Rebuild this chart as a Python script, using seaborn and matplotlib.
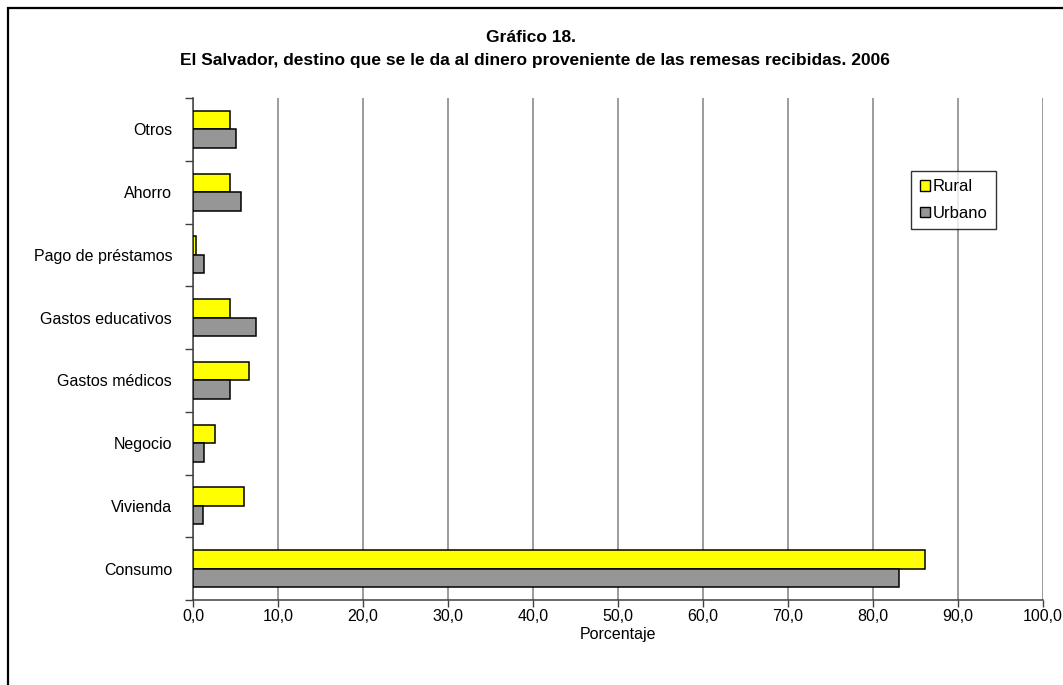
import pandas as pd
import numpy as np
import matplotlib
matplotlib.use('Agg')
import matplotlib.pyplot as plt
from matplotlib.patches import Rectangle
from matplotlib.ticker import FixedLocator, FuncFormatter
import seaborn as sns

# datos
categorias = ['Otros', 'Ahorro', 'Pago de préstamos', 'Gastos educativos',
              'Gastos médicos', 'Negocio', 'Vivienda', 'Consumo']
rural = [4.4, 4.4, 0.4, 4.4, 6.6, 2.6, 6.0, 86.1]
urbano = [5.0, 5.6, 1.3, 7.4, 4.4, 1.3, 1.2, 83.1]
grupos = ['Rural', 'Urbano']
colores = ['#FFFF00', '#969696']

df = pd.DataFrame({
    'categoria': categorias * 2,
    'valor': rural + urbano,
    'zona': ['Rural'] * len(categorias) + ['Urbano'] * len(categorias),
})

sns.set_style('white')
plt.rcParams['font.family'] = ['Liberation Sans', 'DejaVu Sans']
plt.rcParams['text.color'] = 'black'
plt.rcParams['xtick.color'] = 'black'
plt.rcParams['ytick.color'] = 'black'
plt.rcParams['axes.labelcolor'] = 'black'

fig = plt.figure(figsize=(10.63, 6.85), dpi=100)
ax = fig.add_axes([193 / 1063, 1 - 600 / 685, 850 / 1063, 502 / 685])

sns.barplot(data=df, x='valor', y='categoria', hue='zona', order=categorias,
            hue_order=grupos, palette=colores, orient='h', width=0.59,
            edgecolor='black', linewidth=1.1, saturation=1, ax=ax, zorder=3)

ax.set_xlim(0, 100)
ax.set_ylim(len(categorias) - 0.5, -0.5)
ax.xaxis.set_major_locator(FixedLocator(np.arange(0, 101, 10)))
ax.xaxis.set_major_formatter(FuncFormatter(lambda v, p: f'{v:.1f}'.replace('.', ',')))
ax.grid(axis='x', color='#808080', linewidth=1.1, zorder=0)
ax.set_axisbelow(True)

# marcas del eje y entre categorías
ax.yaxis.set_minor_locator(FixedLocator(np.arange(-0.5, len(categorias), 1)))
ax.tick_params(axis='y', which='major', length=0, labelsize=11.5, pad=15)
ax.tick_params(axis='y', which='minor', length=6, width=1, color='#404040', direction='out', left=True)
ax.tick_params(axis='x', which='major', length=5, width=1, color='#404040', direction='out',
               labelsize=11.5, bottom=True, pad=1.5)

for s in ['top', 'right']:
    ax.spines[s].set_visible(False)
for s in ['left', 'bottom']:
    ax.spines[s].set_color('#404040')
    ax.spines[s].set_linewidth(1.1)

ax.set_ylabel('')
ax.set_xlabel('Porcentaje', fontsize=11.5, labelpad=2.5)

leg = ax.legend(loc='upper left', bbox_to_anchor=(0.845, 0.855), frameon=True,
                fancybox=False, fontsize=12, handlelength=0.6, handleheight=0.6,
                handletextpad=0.2, labelspacing=0.7, borderpad=0.5, borderaxespad=0)
leg.get_frame().set_edgecolor('black')
leg.get_frame().set_linewidth(1.0)
for h in leg.legend_handles:
    h.set_edgecolor('black')
    h.set_linewidth(1.0)

fig.text(531 / 1063, 1 - 37 / 685, 'Gráfico 18.', ha='center', va='center',
         fontsize=12.5, fontweight='bold')
fig.text(535 / 1063, 1 - 60 / 685,
         'El Salvador, destino que se le da al dinero proveniente de las remesas recibidas. 2006',
         ha='center', va='center', fontsize=12.5, fontweight='bold')

# marco exterior
fig.patches.append(Rectangle((8 / 1063, -0.05), 1.05, 1.05 - 8 / 685, transform=fig.transFigure,
                             fill=False, edgecolor='black', linewidth=1.6))

fig.savefig('out.png', dpi=100)
